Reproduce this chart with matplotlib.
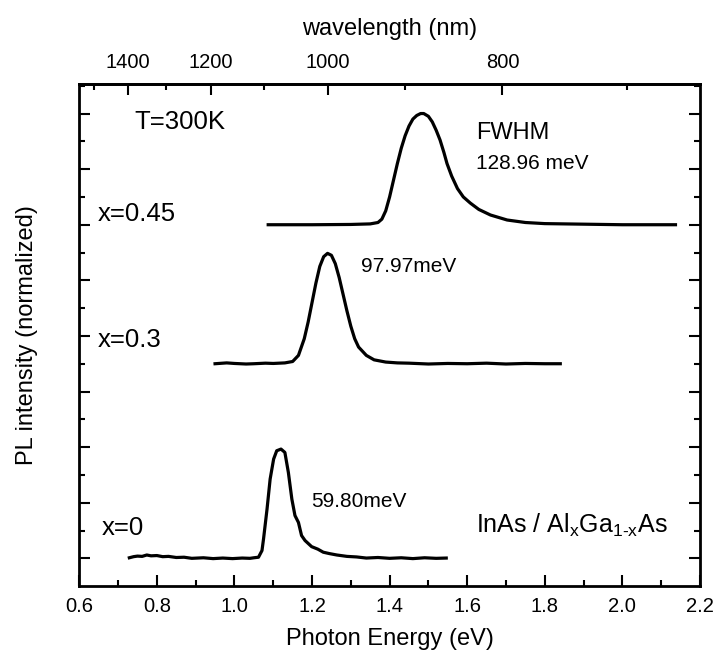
import numpy as np
import matplotlib.pyplot as plt
from matplotlib.ticker import MultipleLocator, FixedLocator

plt.rcParams['font.family'] = ['Liberation Sans', 'DejaVu Sans']
plt.rcParams['mathtext.fontset'] = 'custom'
plt.rcParams['mathtext.rm'] = 'Liberation Sans'
plt.rcParams['mathtext.it'] = 'Liberation Sans'

# PL spectra, energy in eV, intensity in tick units above each baseline
e_x0 = [0.729, 0.74, 0.75, 0.762, 0.774, 0.785, 0.80, 0.815, 0.83, 0.85, 0.87, 0.89, 0.92,
        0.945, 0.97, 0.995, 1.02, 1.04, 1.05, 1.062, 1.071, 1.075,
        1.084, 1.092, 1.101, 1.109, 1.12, 1.13, 1.139, 1.148, 1.156, 1.165, 1.173, 1.182,
        1.199, 1.215, 1.229, 1.245, 1.264, 1.29, 1.315, 1.34, 1.37, 1.40, 1.43, 1.46,
        1.49, 1.52, 1.546]
i_x0 = [0.02, 0.06, 0.08, 0.07, 0.12, 0.09, 0.1, 0.06, 0.07, 0.03, 0.04, 0.0, 0.02,
        -0.01, 0.01, -0.01, 0.01, 0.0, 0.02, 0.04, 0.28, 0.7,
        1.77, 2.85, 3.57, 3.87, 3.93, 3.81, 3.09, 2.13, 1.54, 1.29, 0.82, 0.64,
        0.42, 0.33, 0.22, 0.17, 0.12, 0.07, 0.05, 0.01, 0.03, 0.0, 0.02, -0.01,
        0.02, 0.0, 0.01]

e_x03 = [0.95, 0.98, 1.0, 1.03, 1.05, 1.08, 1.1, 1.13, 1.15, 1.165, 1.18, 1.19, 1.2, 1.21,
         1.22, 1.23, 1.24, 1.25, 1.26, 1.27, 1.28, 1.29, 1.30, 1.31, 1.32, 1.34, 1.36,
         1.39, 1.42, 1.45, 1.50, 1.55, 1.60, 1.65, 1.70, 1.75, 1.80, 1.84]
i_x03 = [0.0, 0.03, 0.01, -0.01, 0.0, 0.02, 0.01, 0.03, 0.08, 0.3, 0.9, 1.5, 2.2, 2.9,
         3.5, 3.85, 3.97, 3.9, 3.6, 3.1, 2.5, 1.9, 1.35, 0.9, 0.6, 0.3, 0.14,
         0.06, 0.03, 0.02, -0.01, 0.01, 0.0, 0.02, -0.01, 0.01, 0.0, 0.0]

e_x045 = [1.087, 1.2, 1.3, 1.35, 1.37, 1.38, 1.39, 1.40, 1.41, 1.42, 1.43, 1.44, 1.45,
          1.46, 1.47, 1.48, 1.488, 1.50, 1.51, 1.52, 1.53, 1.54, 1.548, 1.56, 1.575,
          1.59, 1.608, 1.63, 1.66, 1.703, 1.75, 1.80, 1.9, 2.0, 2.137]
i_x045 = [0.0, 0.0, 0.01, 0.03, 0.08, 0.2, 0.5, 1.0, 1.6, 2.2, 2.75, 3.2, 3.55,
          3.8, 3.93, 4.0, 4.0, 3.9, 3.7, 3.4, 3.05, 2.6, 2.2, 1.75, 1.3,
          1.0, 0.78, 0.55, 0.35, 0.17, 0.08, 0.04, 0.02, 0.0, 0.0]

offsets = [0, 7, 12]

# top axis mapping used in the original (nm <-> eV position)
A, B = 1803.0, -0.563
wl_major = [1400, 1200, 1000, 800]
wl_minor = [1500, 1300, 1100, 900, 700]

fig = plt.figure(figsize=(7.15, 6.57), dpi=100)
ax = fig.add_axes([0.1109, 0.1085, 0.868, 0.7644])

ax.plot(e_x0, np.array(i_x0) + offsets[0], color='black', lw=2.3)
ax.plot(e_x03, np.array(i_x03) + offsets[1], color='black', lw=2.3)
ax.plot(e_x045, np.array(i_x045) + offsets[2], color='black', lw=2.3)

ax.set_xlim(0.6, 2.2)
ax.set_ylim(-0.985, 17.08)
ax.xaxis.set_major_locator(MultipleLocator(0.2))
ax.xaxis.set_minor_locator(MultipleLocator(0.1))
ax.yaxis.set_major_locator(MultipleLocator(2))
ax.yaxis.set_minor_locator(MultipleLocator(1))
ax.xaxis.set_major_formatter(plt.FormatStrFormatter('%.1f'))
ax.tick_params(which='both', direction='in', left=True, right=True, top=False,
               labelleft=False, width=1.5, labelsize=14.5, pad=8)
ax.tick_params(which='major', length=8)
ax.tick_params(which='minor', length=4)
for s in ax.spines.values():
    s.set_linewidth(2)

ax.set_xlabel('Photon Energy (eV)', fontsize=17, labelpad=9)
ax.set_ylabel('PL intensity (normalized)', fontsize=17, labelpad=30)

sec = ax.secondary_xaxis('top', functions=(lambda e: A / (e - B), lambda w: A / w + B))
sec.set_xticks(wl_major)
sec.xaxis.set_minor_locator(FixedLocator(wl_minor))
sec.tick_params(which='both', direction='in', width=1.5, labelsize=14.5, pad=8)
sec.tick_params(which='major', length=8)
sec.tick_params(which='minor', length=4)
sec.spines['top'].set_linewidth(2)
sec.set_xlabel('wavelength (nm)', fontsize=17, labelpad=13)

ax.text(0.741, 15.7, 'T=300K', fontsize=18.5, va='center')
ax.text(0.648, 12.4, 'x=0.45', fontsize=18.5, va='center')
ax.text(0.648, 7.85, 'x=0.3', fontsize=18.5, va='center')
ax.text(0.658, 1.08, 'x=0', fontsize=18.5, va='center')
ax.text(1.622, 15.3, 'FWHM', fontsize=17, va='center')
ax.text(1.622, 14.2, '128.96 meV', fontsize=15, va='center')
ax.text(1.325, 10.5, '97.97meV', fontsize=15, va='center')
ax.text(1.197, 2.04, '59.80meV', fontsize=15, va='center')
ax.text(1.622, 1.2, r'InAs / Al$_\mathregular{x}$Ga$_\text{1-x}$As', fontsize=18, va='center')

fig.savefig('out.png')
